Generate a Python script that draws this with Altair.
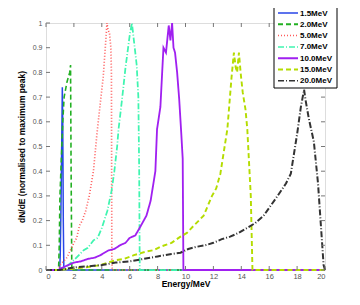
import altair as alt
import pandas as pd

series_names = ["1.5MeV", "2.0MeV", "5.0MeV", "7.0MeV", "10.0MeV", "15.0MeV", "20.0MeV"]
series_colors = ["#2846e8", "#22b022", "#ff5a5a", "#3ff5b0", "#a020f0", "#b4dc00", "#333333"]

e_15 = [0, 0.98, 1.02, 1.06, 1.1, 1.14, 1.17, 1.2, 1.24, 1.28, 20]
y_15 = [0, 0, 0.06, 0.2, 0.38, 0.58, 0.74, 0.6, 0.2, 0, 0]

e_20 = [0, 0.9, 0.95, 1.0, 1.1, 1.2, 1.3, 1.5, 1.7, 1.76, 1.8, 1.85, 20]
y_20 = [0, 0, 0.1, 0.3, 0.45, 0.6, 0.7, 0.76, 0.8, 0.83, 0.4, 0, 0]

e_50 = [0, 0.9, 1.0, 1.5, 2.0, 2.2, 2.4, 2.6, 2.85, 3.1, 3.4, 3.65, 3.9, 4.1, 4.2, 4.3, 4.37, 4.45, 4.55, 4.65, 4.69, 4.72, 4.75, 20]
y_50 = [0, 0, 0.02, 0.05, 0.11, 0.13, 0.18, 0.2, 0.24, 0.3, 0.4, 0.55, 0.68, 0.78, 0.86, 0.94, 1.0, 0.97, 0.96, 0.9, 0.8, 0.05, 0, 0]

e_70 = [0, 1.0, 1.5, 2.0, 2.7, 3.0, 3.4, 3.7, 4.0, 4.4, 4.7, 4.9, 5.1, 5.2, 5.45, 5.7, 6.0, 6.16, 6.3, 6.5, 6.62, 6.68, 6.72, 20]
y_70 = [0, 0, 0.015, 0.04, 0.08, 0.09, 0.12, 0.13, 0.17, 0.24, 0.32, 0.4, 0.5, 0.57, 0.69, 0.82, 0.95, 1.0, 0.93, 0.83, 0.7, 0.4, 0, 0]

e_100 = [0, 0.9, 1.0, 2.0, 2.5, 3.0, 3.5, 3.9, 4.5, 4.9, 5.3, 5.7, 6.0, 6.4, 6.76, 7.2, 7.5, 7.84, 7.96, 8.2, 8.42, 8.6, 8.8, 8.92, 9.04, 9.14, 9.25, 9.4, 9.55, 9.7, 9.8, 9.85, 20]
y_100 = [0, 0, 0.005, 0.03, 0.035, 0.045, 0.05, 0.06, 0.08, 0.085, 0.1, 0.11, 0.13, 0.14, 0.175, 0.22, 0.28, 0.4, 0.57, 0.66, 0.9, 0.88, 0.99, 0.93, 1.0, 0.9, 0.88, 0.8, 0.69, 0.55, 0.45, 0, 0]

e_150 = [0, 1.0, 2.0, 3.0, 3.9, 5.0, 5.6, 6.3, 7.2, 7.7, 8.2, 9.0, 9.64, 10.1, 10.6, 11.3, 11.9, 12.2, 12.5, 13.0, 13.3, 13.47, 13.6, 13.7, 13.83, 13.95, 14.1, 14.3, 14.43, 14.68, 14.8, 20]
y_150 = [0, 0, 0.005, 0.012, 0.02, 0.04, 0.045, 0.06, 0.075, 0.08, 0.094, 0.11, 0.135, 0.15, 0.18, 0.22, 0.3, 0.33, 0.39, 0.57, 0.78, 0.88, 0.82, 0.8, 0.88, 0.8, 0.72, 0.65, 0.57, 0.3, 0, 0]

e_200 = [0, 1.0, 2.0, 3.0, 4.0, 5.0, 6.0, 7.0, 8.0, 9.0, 9.64, 10.2, 10.8, 11.4, 12.0, 12.6, 13.2, 13.8, 14.4, 15.0, 15.6, 16.1, 16.6, 17.2, 17.55, 18.0, 18.27, 18.5, 18.6, 18.85, 19.2, 19.5, 19.9, 20]
y_200 = [0, 0, 0.01, 0.015, 0.02, 0.03, 0.035, 0.045, 0.055, 0.065, 0.07, 0.085, 0.094, 0.1, 0.11, 0.125, 0.135, 0.15, 0.17, 0.19, 0.22, 0.26, 0.3, 0.35, 0.39, 0.55, 0.66, 0.73, 0.69, 0.61, 0.52, 0.35, 0.02, 0]

x_ticks = [0, 2, 4, 6, 8, 10, 12, 14, 16, 18, 20]
y_ticks = [0, 0.1, 0.2, 0.3, 0.4, 0.5, 0.6, 0.7, 0.8, 0.9, 1.0]

all_e = [e_15, e_20, e_50, e_70, e_100, e_150, e_200]
all_y = [y_15, y_20, y_50, y_70, y_100, y_150, y_200]

rows = []
for name, es, ys in zip(series_names, all_e, all_y):
    for i, (e, v) in enumerate(zip(es, ys)):
        rows.append({"series": name, "E": e, "val": v, "order": i})
df = pd.DataFrame(rows)

W, H = 279, 247
dashes = [[1, 0], [5, 3], [1, 2], [6, 2, 1, 2], [1, 0], [5, 3], [6, 2, 1, 2]]
widths = [1.5, 2, 1.5, 1.5, 2, 2, 1.5]

x_axis = alt.Axis(values=x_ticks, title="Energy/MeV", grid=False, ticks=False,
                  domain=False, labelFontSize=7.5, labelColor="#555555",
                  labelOverlap=False, format="~g",
                  labelPadding=2, titleFontSize=8.5, titleFontWeight="bold",
                  titleColor="#000000", titlePadding=0)
y_axis = alt.Axis(values=y_ticks, title="dN/dE (normalised to maximum peak)",
                  grid=False, ticks=False, domain=False, labelFontSize=7,
                  labelOverlap=False, format=".1~f",
                  labelColor="#555555", labelPadding=4, titleFontSize=8.5,
                  titleFontWeight="bold", titleColor="#000000", titlePadding=6)
x_scale = alt.Scale(domain=[0, 20], nice=False)
y_scale = alt.Scale(domain=[0, 1], nice=False)

lines = alt.Chart(df).mark_line().encode(
    x=alt.X("E:Q", scale=x_scale, axis=x_axis),
    y=alt.Y("val:Q", scale=y_scale, axis=y_axis),
    color=alt.Color("series:N", scale=alt.Scale(domain=series_names, range=series_colors),
                    legend=None),
    strokeDash=alt.StrokeDash("series:N", scale=alt.Scale(domain=series_names, range=dashes),
                              legend=None),
    strokeWidth=alt.StrokeWidth("series:N", scale=alt.Scale(domain=series_names, range=widths),
                                legend=None),
    order="order:Q",
)

tx = pd.DataFrame({"E": x_ticks})
ty = pd.DataFrame({"val": y_ticks})
tick_style = dict(color="#777777", strokeWidth=1)
xb = alt.Chart(tx).mark_rule(**tick_style).encode(
    x=alt.X("E:Q", scale=x_scale, axis=x_axis), y=alt.value(H), y2=alt.value(H - 4))
xt = alt.Chart(tx).mark_rule(**tick_style).encode(
    x=alt.X("E:Q", scale=x_scale, axis=x_axis), y=alt.value(0), y2=alt.value(4))
yl = alt.Chart(ty).mark_rule(**tick_style).encode(
    y=alt.Y("val:Q", scale=y_scale, axis=y_axis), x=alt.value(0), x2=alt.value(4))
yr = alt.Chart(ty).mark_rule(**tick_style).encode(
    y=alt.Y("val:Q", scale=y_scale, axis=y_axis), x=alt.value(W - 4), x2=alt.value(W))

# custom legend box
one = pd.DataFrame({"k": [0]})
LX, LY, LW, LH = 228, -17, 63, 82
box = alt.Chart(one).mark_rect(fill="white", stroke="#000000", strokeWidth=1).encode(
    x=alt.value(LX), x2=alt.value(LX + LW), y=alt.value(LY), y2=alt.value(LY + LH))
legend_layers = [box]
row_h = 11.3
for i, name in enumerate(series_names):
    yy = LY + 7 + i * row_h
    legend_layers.append(
        alt.Chart(one).mark_rule(color=series_colors[i], strokeDash=dashes[i],
                                 strokeWidth=widths[i]).encode(
            x=alt.value(LX + 4), x2=alt.value(LX + 24), y=alt.value(yy)))
    legend_layers.append(
        alt.Chart(one).mark_text(text=name, align="left", baseline="middle", fontSize=8,
                                 fontWeight="bold", color="#000000").encode(
            x=alt.value(LX + 26), y=alt.value(yy + 0.5)))

chart = alt.layer(lines, xb, xt, yl, yr, *legend_layers).properties(
    width=W, height=H,
    autosize=alt.AutoSizeParams(type="none"),
    padding={"left": 38, "top": 15, "right": 20, "bottom": 30},
).configure_view(stroke="#888888", strokeWidth=1.5).configure(font="Liberation Sans")

chart.save("out.html", embed_options={"renderer": "svg", "actions": False})
